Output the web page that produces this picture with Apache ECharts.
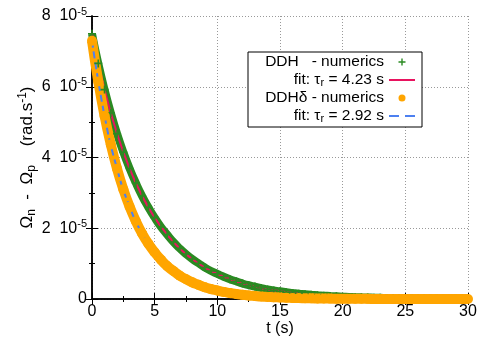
<!DOCTYPE html>
<html>
<head>
<meta charset="utf-8">
<script src="https://cdn.jsdelivr.net/npm/echarts@6/dist/echarts.min.js"></script>
<style>
  html, body { margin: 0; padding: 0; background: #fff; }
  #chart { width: 481px; height: 338px; }
</style>
</head>
<body>
<div id="chart"></div>
<script>
// values in units of 1e-5 rad.s^-1
var tNum = [0,0.5,1,1.5,2,2.5,3,3.5,4,4.5,5,5.5,6,6.5,7,7.5,8,8.5,9,9.5,10,
            10.5,11,11.5,12,12.5,13,13.5,14,14.5,15,15.5,16,16.5,17,17.5,18,18.5,19,19.5,20,
            20.5,21,21.5,22,22.5,23,23.5,24,24.5,25,25.5,26,26.5,27,27.5,28,28.5,29,29.5,30];
var ddhNum = [7.50,6.66,5.92,5.26,4.67,4.15,3.69,3.28,2.91,2.59,2.30,
              2.04,1.82,1.61,1.43,1.27,1.13,1.01,0.89,0.79,0.71,
              0.63,0.56,0.50,0.44,0.39,0.35,0.31,0.27,0.24,0.22,
              0.19,0.17,0.15,0.135,0.12,0.107,0.095,0.084,0.075,0.066,
              0.059,0.052,0.046,0.041,0.037,0.033,0.029,0.026,0.023,0.020,
              0.018,0.016,0.014,0.013,0.011,0.010,0.009,0.008,0.007,0.006];
var ddhdNum = [7.30,6.15,5.18,4.37,3.68,3.10,2.61,2.20,1.85,1.56,1.32,
               1.11,0.93,0.79,0.66,0.56,0.47,0.40,0.33,0.28,0.24,
               0.20,0.17,0.14,0.12,0.10,0.085,0.071,0.060,0.051,0.043,
               0.036,0.030,0.026,0.021,0.018,0.015,0.013,0.011,0.009,0.008,
               0.007,0.006,0.005,0.004,0.003,0.003,0.002,0.002,0.002,0.002,
               0.001,0.001,0.001,0.001,0.001,0.001,0.001,0,0,0];

var tFit = [0,1,2,3,4,5,6,7,8,9,10,11,12,13,14,15,16,17,18,19,20,21,22,23,24,25,26,27,28,29,30];
var ddhFit = [7.50,5.92,4.67,3.69,2.91,2.30,1.82,1.43,1.13,0.89,0.71,0.56,0.44,0.35,0.27,0.22,
              0.17,0.135,0.107,0.084,0.066,0.052,0.041,0.033,0.026,0.020,0.016,0.013,0.010,0.008,0.006];
var ddhdFit = [7.30,5.18,3.68,2.61,1.85,1.32,0.93,0.66,0.47,0.33,0.24,0.17,0.12,0.085,0.060,0.043,
               0.030,0.021,0.015,0.011,0.008,0.006,0.004,0.003,0.002,0.002,0.001,0.001,0.001,0.0005,0.0004];

var names = ['DDH - numerics', 'DDH fit', 'DDHd - numerics', 'DDHd fit'];
var legendText = {
    'DDH - numerics': '{t|DDH   - numerics}',
    'DDH fit': '{t|fit: τ}{sub|r}{t| = 4.23 s}',
    'DDHd - numerics': '{t|DDHδ - numerics}',
    'DDHd fit': '{t|fit: τ}{sub|r}{t| = 2.92 s}'
};

var font = '"Liberation Sans", Arial, Helvetica, sans-serif';
var plusPath = 'path://M4,0H6V4H10V6H6V10H4V6H0V4H4Z';

function pairs(xs, ys) {
    var out = [];
    for (var i = 0; i < xs.length; i++) out.push([xs[i], ys[i]]);
    return out;
}

var myChart = echarts.init(document.getElementById('chart'));

var mirrorAxis = {
    show: true,
    axisLine: { show: true, lineStyle: { color: '#000', width: 1.5 } },
    axisTick: { show: true, inside: true, length: 6, lineStyle: { color: '#000' } },
    minorTick: { show: true, splitNumber: 2, length: 3, lineStyle: { color: '#000' } },
    axisLabel: { show: false },
    splitLine: { show: false }
};

myChart.setOption({
    animation: false,
    textStyle: { fontFamily: font },
    grid: { left: 92, right: 13, top: 16, bottom: 39, containLabel: false, outerBoundsMode: 'none' },
    legend: {
        orient: 'vertical',
        left: 248,
        top: 52,
        padding: [1, 7, 2, 6],
        itemGap: 0,
        itemWidth: 26,
        itemHeight: 7,
        backgroundColor: '#fff',
        borderColor: '#000',
        borderWidth: 1,
        borderRadius: 0,
        align: 'right',
        formatter: function (n) { return legendText[n]; },
        textStyle: {
            width: 130,
            align: 'right',
            lineHeight: 18,
            rich: {
                t: { fontSize: 15.5, color: '#000', fontFamily: font, lineHeight: 18 },
                sub: { fontSize: 11, color: '#000', fontFamily: font, padding: [6, 0, 0, 0], lineHeight: 18 }
            }
        },
        data: [
            { name: names[0], icon: plusPath },
            { name: names[1], icon: 'path://M0,0H26V2H0Z' },
            { name: names[2], icon: 'circle' },
            { name: names[3], icon: 'path://M0,0H10V2H0Z M16,0H26V2H16Z' }
        ]
    },
    xAxis: [{
        type: 'value',
        min: 0, max: 30, interval: 5,
        name: 't (s)',
        nameLocation: 'middle',
        nameGap: 22,
        nameMoveOverlap: false,
        nameTextStyle: { fontSize: 16, color: '#000', fontFamily: font },
        axisLine: { show: true, onZero: false, lineStyle: { color: '#000', width: 1.5 } },
        axisTick: { show: true, inside: true, length: 6, lineStyle: { color: '#000' } },
        minorTick: { show: true, splitNumber: 2, length: 3, lineStyle: { color: '#000' } },
        axisLabel: { fontSize: 16, color: '#000', margin: 5, fontFamily: font },
        splitLine: { show: true, lineStyle: { color: '#999', type: [1, 2], width: 1 } }
    }, Object.assign({ type: 'value', position: 'top', min: 0, max: 30, interval: 5 }, mirrorAxis)],
    yAxis: [{
        type: 'value',
        min: 0, max: 8, interval: 2,
        name: '{t|Ω}{sub|n}{t|  -  Ω}{sub|p}{t|    (rad.s}{sup|-1}{t|)}',
        nameLocation: 'middle',
        nameGap: 54,
        nameMoveOverlap: false,
        nameRotate: 90,
        nameTextStyle: {
            rich: {
                t: { fontSize: 17, color: '#000', fontFamily: font, lineHeight: 22 },
                sub: { fontSize: 12, color: '#000', fontFamily: font, padding: [9, 0, 0, 0], lineHeight: 22 },
                sup: { fontSize: 12, color: '#000', fontFamily: font, padding: [0, 0, 9, 0], lineHeight: 22 }
            }
        },
        axisLine: { show: true, onZero: false, lineStyle: { color: '#000', width: 1.5 } },
        axisTick: { show: true, inside: true, length: 6, lineStyle: { color: '#000' } },
        minorTick: { show: true, splitNumber: 2, length: 3, lineStyle: { color: '#000' } },
        axisLabel: {
            margin: 5,
            formatter: function (v) {
                return v === 0 ? '{a|0}' : '{a|' + v + '  10}{s|-5}';
            },
            rich: {
                a: { fontSize: 16, color: '#000', fontFamily: font, lineHeight: 18 },
                s: { fontSize: 11, color: '#000', fontFamily: font, padding: [0, 0, 9, 0], lineHeight: 18 }
            }
        },
        splitLine: { show: true, lineStyle: { color: '#999', type: [1, 2], width: 1 } }
    }, Object.assign({ type: 'value', position: 'right', min: 0, max: 8, interval: 2 }, mirrorAxis)],
    series: [
        {
            name: names[0],
            type: 'line',
            data: pairs(tNum, ddhNum),
            smooth: true,
            clip: false,
            symbol: plusPath,
            symbolSize: 8,
            showAllSymbol: true,
            color: '#2a8a22',
            lineStyle: { width: 8, color: '#2a8a22' },
            itemStyle: { color: '#2a8a22' }
        },
        {
            name: names[1],
            type: 'line',
            data: pairs(tFit, ddhFit),
            smooth: true,
            symbol: 'none',
            color: '#e8135f',
            lineStyle: { width: 2, color: '#e8135f' }
        },
        {
            name: names[2],
            type: 'line',
            data: pairs(tNum, ddhdNum),
            smooth: true,
            clip: false,
            symbol: 'circle',
            symbolSize: 10,
            showAllSymbol: true,
            color: '#ffa500',
            lineStyle: { width: 10, color: '#ffa500' },
            itemStyle: { color: '#ffa500' }
        },
        {
            name: names[3],
            type: 'line',
            data: pairs(tFit, ddhdFit),
            smooth: true,
            symbol: 'none',
            color: '#4d80f0',
            lineStyle: { width: 2, color: '#4d80f0', type: [7, 4] }
        }
    ]
});
</script>
</body>
</html>
